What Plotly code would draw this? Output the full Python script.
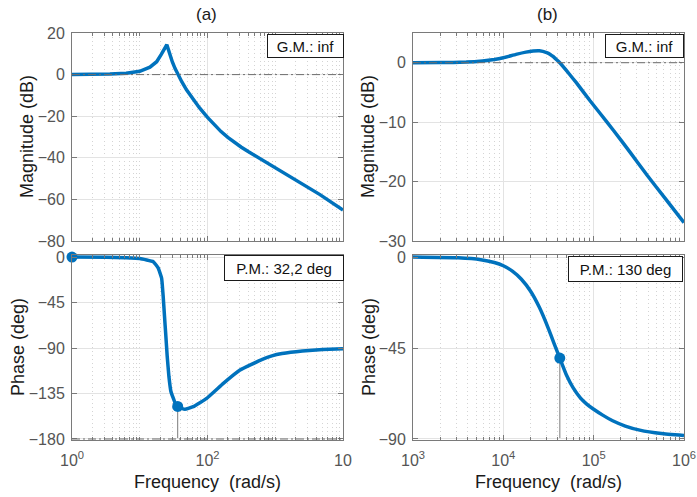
import plotly.graph_objects as go

# ---------------- data ----------------
# (a) magnitude (rad/s, dB)
freq_mag_a = [1, 2, 3.63, 6.31, 10, 14.13, 17.78, 20.89, 23.99, 25.12, 26.3, 27.54, 28.84,
              30.2, 33.11, 36.31, 41.69, 48.98, 58.88, 75.86, 100, 125.9, 158.5, 199.5,
              251.2, 316.2, 398.1, 501.2, 631, 1175, 2291, 4571, 10000]
mag_a = [0, 0.05, 0.3, 0.7, 1.6, 3.6, 6.2, 9.8, 13.4, 14.4, 12.3, 10.0, 8.0,
         6.2, 3.0, 0.2, -3.4, -7.3, -11.2, -15.9, -20.6, -24.2, -27.4, -30.2,
         -32.7, -34.9, -37.0, -39.0, -41.0, -46.2, -51.8, -57.7, -65.1]
# (a) phase (rad/s, deg)
freq_ph_a = [1, 3.16, 6.31, 10, 15.85, 18.75, 21.04, 22.13, 23.17, 24.27, 25.41, 26.92,
             28.84, 33.11, 36.31, 46.45, 61.66, 97.27, 171.4, 302, 631, 891, 1259,
             2512, 5012, 10000]
ph_a = [0, -0.3, -0.8, -1.5, -4.6, -11, -21, -38, -58, -78, -98, -118,
        -133, -144, -147.8, -150.7, -148, -139.8, -125, -111.8, -101.5, -97.8, -95.5,
        -93.0, -91.6, -90.8]
# (b) magnitude (rad/s, dB)
freq_mag_b = [1000, 1995, 3890, 5888, 7943, 10000, 13800, 17780, 21380, 25120, 30200,
              33110, 35480, 38900, 42170, 45710, 53700, 64570, 91200, 117500, 166000,
              251200, 389000, 631000, 1000000]
mag_b = [0, 0.02, 0.1, 0.3, 0.55, 0.84, 1.4, 1.78, 1.96, 2.0, 1.7,
         1.4, 1.05, 0.5, 0, -0.6, -1.9, -3.4, -6.4, -8.5, -11.4,
         -15, -18.9, -23, -26.9]
# (b) phase (rad/s, deg)
freq_ph_b = [1000, 3162, 5623, 7943, 10000, 12589, 15849, 19953, 25119, 31623, 36308,
             42170, 50119, 58884, 70795, 83176, 100000, 125893, 162181, 223872, 323594,
             562341, 1000000]
ph_b = [0, -0.4, -1.3, -2.7, -4.3, -7.0, -11.0, -16.8, -25.0, -35.5, -42.6,
        -50.0, -58.5, -64.5, -69.5, -72.6, -75.3, -78.2, -81.0, -83.6, -85.6,
        -87.3, -88.3]

# crossover markers (frequency, phase)
wc_a, pm_phase_a = 36.31, -147.8
wc_b, pm_phase_b = 42170, -50.0
start_a, start_b = 1, 1000

titles = ["(a)", "(b)"]
gm_texts = ["G.M.: inf", "G.M.: inf"]
pm_texts = ["P.M.: 32,2 deg", "P.M.: 130 deg"]
mag_label = "Magnitude (dB)"
ph_label = "Phase (deg)"
freq_label = "Frequency  (rad/s)"

xt_a_vals = [1, 100, 10000]
xt_a_text = ["10<sup>0</sup>", "10<sup>2</sup>", "10"]
xt_b_vals = [1e3, 1e4, 1e5, 1e6]
xt_b_text = ["10<sup>3</sup>", "10<sup>4</sup>", "10<sup>5</sup>", "10<sup>6</sup>"]
yt_mag_a = [-80, -60, -40, -20, 0, 20]
yt_ph_a = [-180, -135, -90, -45, 0]
yt_mag_b = [-30, -20, -10, 0]
yt_ph_b = [-90, -45, 0]

minor_a = [m * 10 ** k for k in range(0, 4) for m in range(2, 10)] + [10, 1000]
minor_b = [m * 10 ** k for k in range(3, 6) for m in range(2, 10)]

# ---------------- style ----------------
W, H = 697, 497
BLUE = "#0072BD"
FONT = "Liberation Sans, Arial, Helvetica, sans-serif"
TICKC = "#555555"
AXC = "#7a7a7a"
GRID = "#e3e3e3"
MINORGRID = "#d4d4d4"

def px_x(p):
    return p / W

def px_y(p):
    return 1 - p / H

xl = [px_x(72), px_x(343)]
xr = [px_x(413), px_x(684)]
yt = [px_y(241), px_y(33)]
yb = [px_y(440), px_y(255)]

fig = go.Figure()

def add_line(x, y, xa, ya, shape="linear"):
    line = dict(color=BLUE, width=3.5, shape=shape)
    if shape == "spline":
        line["smoothing"] = 0.3
    fig.add_trace(go.Scatter(x=x, y=y, mode="lines", xaxis=xa, yaxis=ya, line=line,
                             showlegend=False, hoverinfo="skip"))

def add_markers(x, y, xa, ya):
    fig.add_trace(go.Scatter(x=x, y=y, mode="markers", xaxis=xa, yaxis=ya,
                             marker=dict(color=BLUE, size=11),
                             showlegend=False, hoverinfo="skip", cliponaxis=False))

add_line(freq_mag_a, mag_a, "x", "y", "linear")
add_line(freq_ph_a, ph_a, "x2", "y2", "spline")
add_line(freq_mag_b, mag_b, "x3", "y3", "spline")
add_line(freq_ph_b, ph_b, "x4", "y4", "spline")

# reference lines
shapes = []
dashdot = "8px,3px,2px,3px"
for xr_, yr_ in [("x", "y"), ("x3", "y3")]:
    shapes.append(dict(type="line", xref=xr_ + " domain", x0=0, x1=1, yref=yr_, y0=0, y1=0,
                       line=dict(color="#6e6e6e", width=1, dash=dashdot), layer="above"))
shapes.append(dict(type="line", xref="x2 domain", x0=0, x1=1, yref="y2", y0=yt_ph_a[0], y1=yt_ph_a[0],
                   line=dict(color="#6e6e6e", width=1, dash=dashdot), layer="above"))
shapes.append(dict(type="line", xref="x2", x0=wc_a, x1=wc_a, yref="y2", y0=pm_phase_a, y1=yt_ph_a[0],
                   line=dict(color="#7a7a7a", width=1), layer="below"))
shapes.append(dict(type="line", xref="x4", x0=wc_b, x1=wc_b, yref="y4", y0=pm_phase_b, y1=yt_ph_b[0],
                   line=dict(color="#9a9a9a", width=1.3), layer="below"))

add_markers([start_a, wc_a], [0, pm_phase_a], "x2", "y2")
add_markers([start_b, wc_b], [0, pm_phase_b], "x4", "y4")

def xaxis(domain, rng, tickvals, ticktext, minor_vals, anchor, show_labels):
    return dict(domain=domain, type="log", range=rng, anchor=anchor, automargin=False,
                tickmode="array", tickvals=tickvals, ticktext=ticktext,
                showticklabels=show_labels, ticks="inside", ticklen=5, tickcolor=AXC,
                showline=True, linecolor=AXC, linewidth=1, mirror="allticks",
                showgrid=True, gridcolor=GRID, gridwidth=1, zeroline=False,
                tickfont=dict(family=FONT, size=16, color=TICKC), ticklabelstandoff=6,
                minor=dict(tickmode="array", tickvals=minor_vals, ticks="inside", ticklen=3,
                           tickcolor=AXC, showgrid=True, gridcolor=MINORGRID,
                           griddash="1px,3px", gridwidth=1))

def yaxis(domain, rng, tickvals, anchor):
    return dict(domain=domain, range=rng, anchor=anchor, automargin=False,
                tickmode="array", tickvals=tickvals,
                ticks="inside", ticklen=5, tickcolor=AXC,
                showline=True, linecolor=AXC, linewidth=1, mirror="allticks",
                showgrid=True, gridcolor=GRID, gridwidth=1, zeroline=False,
                tickfont=dict(family=FONT, size=16, color=TICKC), ticklabelstandoff=3)

fig.update_layout(
    width=W, height=H, autosize=False,
    margin=dict(l=0, r=0, t=0, b=0, autoexpand=False),
    paper_bgcolor="white", plot_bgcolor="white",
    font=dict(family=FONT, color="#262626"),
    xaxis=xaxis(xl, [0, 4], xt_a_vals, xt_a_text, minor_a, "y", False),
    yaxis=yaxis(yt, [-80, 20], yt_mag_a, "x"),
    xaxis2=xaxis(xl, [0, 4], xt_a_vals, xt_a_text, minor_a, "y2", True),
    yaxis2=yaxis(yb, [-181, 2], yt_ph_a, "x2"),
    xaxis3=xaxis(xr, [3, 6], xt_b_vals, xt_b_text, minor_b, "y3", False),
    yaxis3=yaxis(yt, [-30, 5], yt_mag_b, "x3"),
    xaxis4=xaxis(xr, [3, 6], xt_b_vals, xt_b_text, minor_b, "y4", True),
    yaxis4=yaxis(yb, [-90.5, 1], yt_ph_b, "x4"),
    shapes=shapes,
)

ann = []
def text(x, y, s, size, angle=0, color="#1a1a1a"):
    ann.append(dict(x=px_x(x), y=px_y(y), xref="paper", yref="paper", text=s, showarrow=False,
                    xanchor="center", yanchor="middle", textangle=angle,
                    font=dict(family=FONT, size=size, color=color)))

text(206, 15, titles[0], 17)
text(547, 15, titles[1], 17)
text(27, 137, mag_label, 18, -90)
text(18, 347, ph_label, 18, -90)
text(368, 137, mag_label, 18, -90)
text(369, 347, ph_label, 18, -90)
text(207, 482, freq_label, 18)
text(548, 482, freq_label, 18)

def box(right, top, w, h, s):
    ann.append(dict(x=px_x(right), y=px_y(top), xref="paper", yref="paper", text=s,
                    showarrow=False, xanchor="right", yanchor="top", width=w - 2, height=h - 2,
                    align="center", valign="middle", bgcolor="white", bordercolor="#1a1a1a",
                    borderwidth=1, borderpad=0, font=dict(family=FONT, size=15, color="#111111")))

box(344, 34, 77, 24, gm_texts[0])
box(344, 255, 120, 26, pm_texts[0])
box(684, 34, 79, 24, gm_texts[1])
box(683, 256, 115, 26, pm_texts[1])

fig.update_layout(annotations=ann)
fig.write_html("out.html", config={"displayModeBar": False},
               post_script="document.body.style.margin='0';document.body.style.overflow='hidden';")
